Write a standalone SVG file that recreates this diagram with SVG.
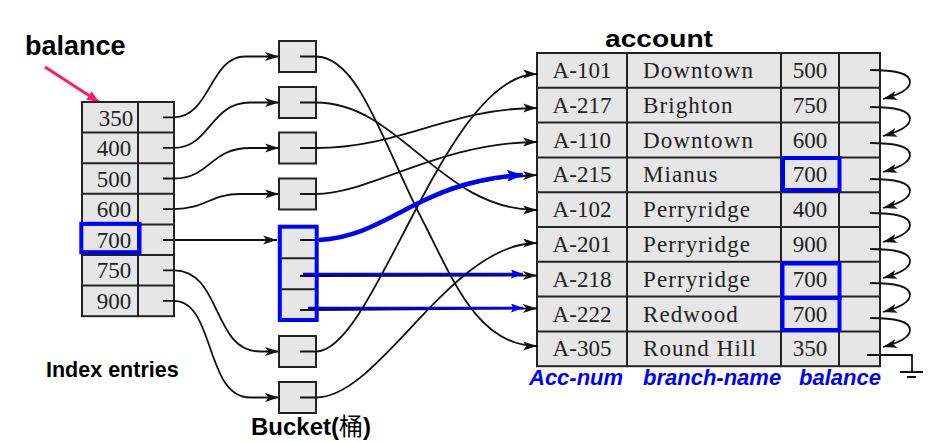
<svg xmlns="http://www.w3.org/2000/svg" width="929" height="442" viewBox="0 0 929 442">
<style>
.cell{fill:#e6e6e6;stroke:#222;stroke-width:2}
.ln{stroke:#222;stroke-width:2;fill:none}
.num{font-family:"Liberation Serif",serif;font-size:23px;fill:#222}
.nm{font-family:"Liberation Serif",serif;font-size:23px;fill:#222;letter-spacing:1.1px}
.c{fill:none;stroke:#111;stroke-width:1.8}
.ca{fill:none;stroke:#111;stroke-width:1.8;marker-end:url(#ah)}
.hl{fill:none;stroke:#0000ff;stroke-width:4}
.title{font-family:"Liberation Sans",Arial,sans-serif;font-weight:bold;fill:#000}
.lab{font-family:"Liberation Sans",Arial,sans-serif;font-weight:bold;font-style:italic;font-size:22px;fill:#0000ff}
</style>
<defs>
<marker id="ah" markerUnits="userSpaceOnUse" markerWidth="14" markerHeight="10" viewBox="0 0 14 10" refX="14" refY="5" orient="auto">
<path d="M0,0.5 L14,5 L0,9.5 L3.5,5 z" fill="#111"/>
</marker>
<marker id="bh" markerUnits="userSpaceOnUse" markerWidth="12" markerHeight="9" viewBox="0 0 12 9" refX="12" refY="4.5" orient="auto">
<path d="M0,0 L12,4.5 L0,9 L2,4.5 z" fill="#0000ff"/>
</marker>
<marker id="bh2" markerUnits="userSpaceOnUse" markerWidth="16" markerHeight="12" viewBox="0 0 16 12" refX="16" refY="6" orient="auto">
<path d="M0,0 L16,6 L0,12 L3,6 z" fill="#0000ff"/>
</marker>
<marker id="ph" markerUnits="userSpaceOnUse" markerWidth="12" markerHeight="10" viewBox="0 0 12 10" refX="12" refY="5" orient="auto">
<path d="M0,0 L12,5 L0,10 z" fill="#ff1a6e"/>
</marker>
</defs>

<g id="label-balance">
<text class="title" x="25" y="55" font-size="27">balance</text>
<path d="M45,67 L99,102" stroke="#ff1a6e" stroke-width="3" fill="none" marker-end="url(#ph)"/>
</g>

<g id="index">
<rect class="cell" x="82" y="102" width="92" height="214.2"/>
<path class="ln" d="M138,102 V316.2 M82,132.6 H174 M82,163.2 H174 M82,193.8 H174 M82,224.4 H174 M82,255 H174 M82,285.6 H174"/>
<text class="num" x="116" y="125.5" text-anchor="middle">350</text>
<text class="num" x="114" y="156" text-anchor="middle">400</text>
<text class="num" x="114" y="186.5" text-anchor="middle">500</text>
<text class="num" x="114" y="217" text-anchor="middle">600</text>
<text class="num" x="114" y="247.7" text-anchor="middle">700</text>
<text class="num" x="114" y="278.3" text-anchor="middle">750</text>
<text class="num" x="114" y="309" text-anchor="middle">900</text>
<rect class="hl" x="81.3" y="223.8" width="58.2" height="28.4"/>
</g>
<g id="label-index"><text class="title" x="46" y="377" font-size="21.5">Index entries</text></g>

<g id="bucket-350"><rect class="cell" x="279" y="41" width="37" height="31"/></g>
<g id="bucket-400"><rect class="cell" x="279" y="87" width="37" height="31"/></g>
<g id="bucket-500"><rect class="cell" x="279" y="132.5" width="37" height="31"/></g>
<g id="bucket-600"><rect class="cell" x="279" y="178.5" width="37" height="31"/></g>
<g id="bucket-700">
<rect class="cell" x="280" y="226.7" width="36.7" height="93.3"/>
<path class="ln" d="M280,258.3 H316.7 M280,289.3 H316.7"/>
</g>
<g id="bucket-750"><rect class="cell" x="279" y="336" width="37" height="31"/></g>
<g id="bucket-900"><rect class="cell" x="279" y="382" width="37" height="31"/></g>
<g id="label-bucket"><text class="title" x="251" y="435" font-size="24">Bucket(<tspan font-family="'Noto Sans CJK SC',sans-serif" font-weight="400">桶</tspan>)</text></g>

<g id="account">
<text class="title" x="605" y="47" font-size="24" textLength="108" lengthAdjust="spacingAndGlyphs">account</text>
<rect class="cell" x="537" y="53" width="343" height="313.2"/>
<path class="ln" d="M627,53 V366.2 M781,53 V366.2 M839,53 V366.2 M537,87.8 H880 M537,122.6 H880 M537,157.4 H880 M537,192.2 H880 M537,227 H880 M537,261.8 H880 M537,296.6 H880 M537,331.4 H880"/>
<g text-anchor="middle" class="num">
<text x="582" y="78">A-101</text>
<text x="582" y="112.8">A-217</text>
<text x="582" y="147.6">A-110</text>
<text x="582" y="182.4">A-215</text>
<text x="582" y="217.2">A-102</text>
<text x="582" y="252">A-201</text>
<text x="582" y="286.8">A-218</text>
<text x="582" y="321.6">A-222</text>
<text x="582" y="356.4">A-305</text>
<text x="810" y="78">500</text>
<text x="810" y="112.8">750</text>
<text x="810" y="147.6">600</text>
<text x="810" y="182.4">700</text>
<text x="810" y="217.2">400</text>
<text x="810" y="252">900</text>
<text x="810" y="286.8">700</text>
<text x="810" y="321.6">700</text>
<text x="810" y="356.4">350</text>
</g>
<g class="nm">
<text x="643" y="78">Downtown</text>
<text x="643" y="112.8">Brighton</text>
<text x="643" y="147.6">Downtown</text>
<text x="643" y="182.4">Mianus</text>
<text x="643" y="217.2">Perryridge</text>
<text x="643" y="252">Perryridge</text>
<text x="643" y="286.8">Perryridge</text>
<text x="643" y="321.6">Redwood</text>
<text x="643" y="356.4">Round Hill</text>
</g>
<rect class="hl" x="783" y="158" width="56.5" height="32"/>
<rect class="hl" x="782.5" y="263.5" width="57" height="34.5"/>
<rect class="hl" x="782.5" y="298" width="57" height="32"/>
</g>
<g id="column-labels">
<text class="lab" x="529" y="385">Acc-num</text>
<text class="lab" x="643" y="385">branch-name</text>
<text class="lab" x="799" y="385">balance</text>
</g>

<g id="connectors">
<path class="ca" d="M163,117.3 L174,117.3 C210,117.3 210,56.5 245,56.5 L279,56.5"/>
<path class="ca" d="M163,147.9 L174,147.9 C210,147.9 210,102.5 250,102.5 L279,102.5"/>
<path class="ca" d="M163,178.5 L174,178.5 C210,178.5 210,148 250,148 L279,148"/>
<path class="ca" d="M163,209.1 L174,209.1 C205,209.1 210,194 240,194 L279,194"/>
<path class="ca" d="M163,240 L277,240"/>
<path class="ca" d="M163,270.3 L174,270.3 C222,270.3 212,351.5 260,351.5 L279,351.5"/>
<path class="ca" d="M163,300.9 L174,300.9 C215,300.9 205,397.5 250,397.5 L279,397.5"/>

<path class="ca" d="M300,56.5 L316,56.5 C360,56.5 385,150 425,225 C455,285 480,346 537,346"/>
<path class="ca" d="M300,102.5 L316,102.5 C400,102.5 440,210 537,210"/>
<path class="ca" d="M300,148 L316,148 C400,148 450,108 537,108"/>
<path class="ca" d="M300,194 L316,194 C370,194 440,142 537,142"/>
<path class="ca" d="M300,240 L317,240 C390,236 420,180 537,175"/>
<path class="ca" d="M300,276 L317,276 L537,275.5"/>
<path class="ca" d="M300,310 L317,310 L537,308.5"/>
<path class="ca" d="M300,351.5 L316,351.5 C375,351.5 445,74 537,74"/>
<path class="ca" d="M300,397.5 L316,397.5 C380,397.5 450,243 537,243"/>

<path class="ca" d="M870,70 C895,70 910,73 910,82 C910,90 898,95 883,99"/>
<path class="ca" d="M870,107 C895,107 910,110 910,119 C910,127 898,132 883,136"/>
<path class="ca" d="M870,143 C895,143 910,146 910,155 C910,163 898,168 883,172"/>
<path class="ca" d="M870,179 C895,179 910,182 910,191 C910,199 898,204 883,208"/>
<path class="ca" d="M870,213 C895,213 910,216 910,225 C910,233 898,238 883,242"/>
<path class="ca" d="M870,249 C895,249 910,252 910,261 C910,269 898,274 883,278"/>
<path class="ca" d="M870,283 C895,283 910,286 910,295 C910,303 898,308 883,312"/>
<path class="ca" d="M870,318 C895,318 910,321 910,330 C910,338 898,343 883,347"/>
<path class="c" d="M867,355 L912,355 L912,372 M900,372 L923,372 M907,377 L916,377"/>
</g>

<g id="highlight-connectors">
<rect class="hl" x="279.8" y="226.7" width="36.9" height="93.3" stroke-width="5"/>
<path d="M319,240 C390,236 420,180 523,175" fill="none" stroke="#0000ff" stroke-width="4.5" marker-end="url(#bh2)"/>
<path d="M303,274 L523,274" fill="none" stroke="#0000ff" stroke-width="2.5" marker-end="url(#bh)"/>
<path d="M308,308 L523,308" fill="none" stroke="#0000ff" stroke-width="2.5" marker-end="url(#bh)"/>
</g>
</svg>
